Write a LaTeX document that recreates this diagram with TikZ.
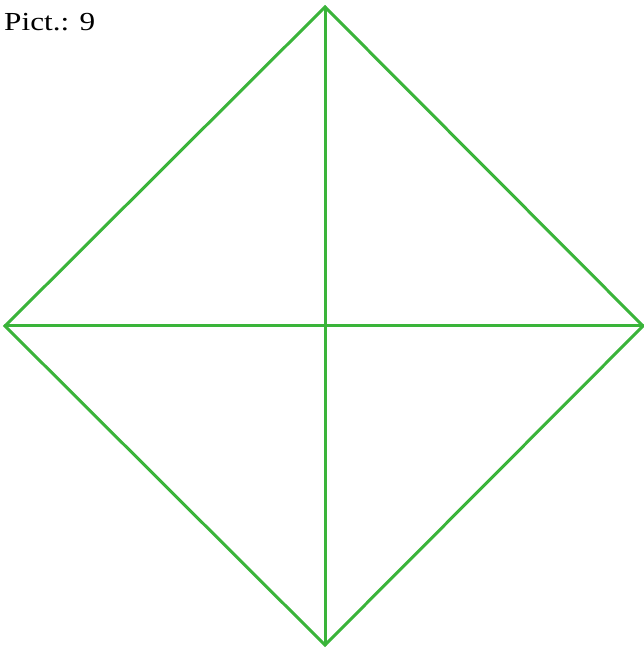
\documentclass[tikz,border=0pt]{standalone}
\usepackage{fontspec}
\setmainfont{Liberation Serif}
\definecolor{linegreen}{RGB}{58,180,58}
\begin{document}
\begin{tikzpicture}[x=1pt,y=1pt,
  edge/.style={draw=linegreen,line width=3pt,line cap=round,line join=miter}]
\useasboundingbox (0,0) rectangle (644,648);
\coordinate (T) at (325,641);
\coordinate (L) at (5,322);
\coordinate (R) at (643,322);
\coordinate (B) at (325,3);
\draw[edge] (T) -- (L) -- (B) -- (R) -- cycle;
\draw[edge] (T) -- (B);
\draw[edge] (L) -- (R);
\node[anchor=base west,inner sep=0pt,xscale=1.2,transform shape,font=\fontsize{26}{30}\selectfont] (title) at (4,617) {Pict.: 9};
\end{tikzpicture}
\end{document}
